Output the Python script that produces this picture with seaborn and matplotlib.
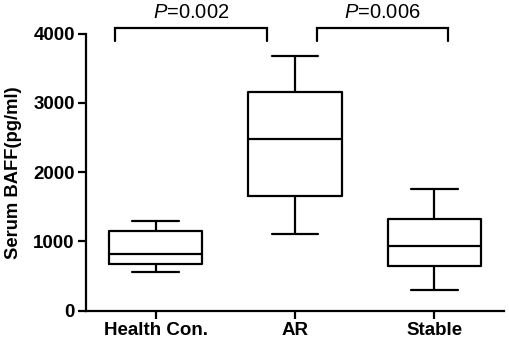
import numpy as np
import pandas as pd
import matplotlib
matplotlib.use("Agg")
import matplotlib.pyplot as plt
import seaborn as sns

# Five-number summaries (min, Q1, median, Q3, max)
groups = ["Health Con.", "AR", "Stable"]
health = [554, 674, 823, 1151, 1300]
ar = [1103, 1661, 2475, 3162, 3673]
stable = [299, 641, 930, 1324, 1762]
yticks = [0, 1000, 2000, 3000, 4000]
p_labels = ["0.002", "0.006"]

df = pd.DataFrame({
    "group": np.repeat(groups, 5),
    "value": health + ar + stable,
})

sns.set_style("ticks")
plt.rcParams["font.family"] = ["Liberation Sans", "DejaVu Sans"]
plt.rcParams["mathtext.fontset"] = "custom"
plt.rcParams["mathtext.it"] = "Liberation Sans:italic"
plt.rcParams["mathtext.rm"] = "Liberation Sans"
for k in ["text.color", "axes.labelcolor", "xtick.color", "ytick.color"]:
    plt.rcParams[k] = "black"

fig = plt.figure(figsize=(5.10, 3.41), dpi=100)
ax = fig.add_axes([0.1686, 0.0889, 0.8196, 0.8123])

lw = 1.6
sns.boxplot(data=df, x="group", y="value", order=groups, ax=ax,
            whis=(0, 100), width=0.67, fill=False, color="black",
            linewidth=lw, showfliers=False,
            medianprops=dict(color="black", linewidth=lw))

ax.set_xlim(-0.5, 2.5)
ax.set_ylim(0, 4000)
ax.set_yticks(yticks)
ax.set_yticklabels([str(t) for t in yticks], fontsize=13.5, fontweight="bold")
ax.set_xticks([0, 1, 2])
ax.set_xticklabels(groups, fontsize=13.5, fontweight="bold")
ax.set_xlabel("")
ax.set_ylabel("Serum BAFF(pg/ml)", fontsize=13.2, fontweight="bold", labelpad=8)
for s in ["top", "right"]:
    ax.spines[s].set_visible(False)
for s in ["left", "bottom"]:
    ax.spines[s].set_linewidth(lw)
    ax.spines[s].set_color("black")
ax.tick_params(axis="both", direction="out", length=6, width=lw, color="black", pad=2)

# significance brackets
def bracket(x0, x1, ytop, ybot, label):
    ax.plot([x0, x0, x1, x1], [ybot, ytop, ytop, ybot], color="black",
            lw=lw, clip_on=False, solid_joinstyle="miter")
    ax.text((x0 + x1) / 2, ytop + 80, "$\\it{P}$=" + label, ha="center", va="bottom",
            fontsize=14.5, clip_on=False)

bracket(-0.29, 0.80, 4087, 3889, p_labels[0])
bracket(1.16, 2.10, 4087, 3889, p_labels[1])

fig.savefig("out.png", dpi=100)
